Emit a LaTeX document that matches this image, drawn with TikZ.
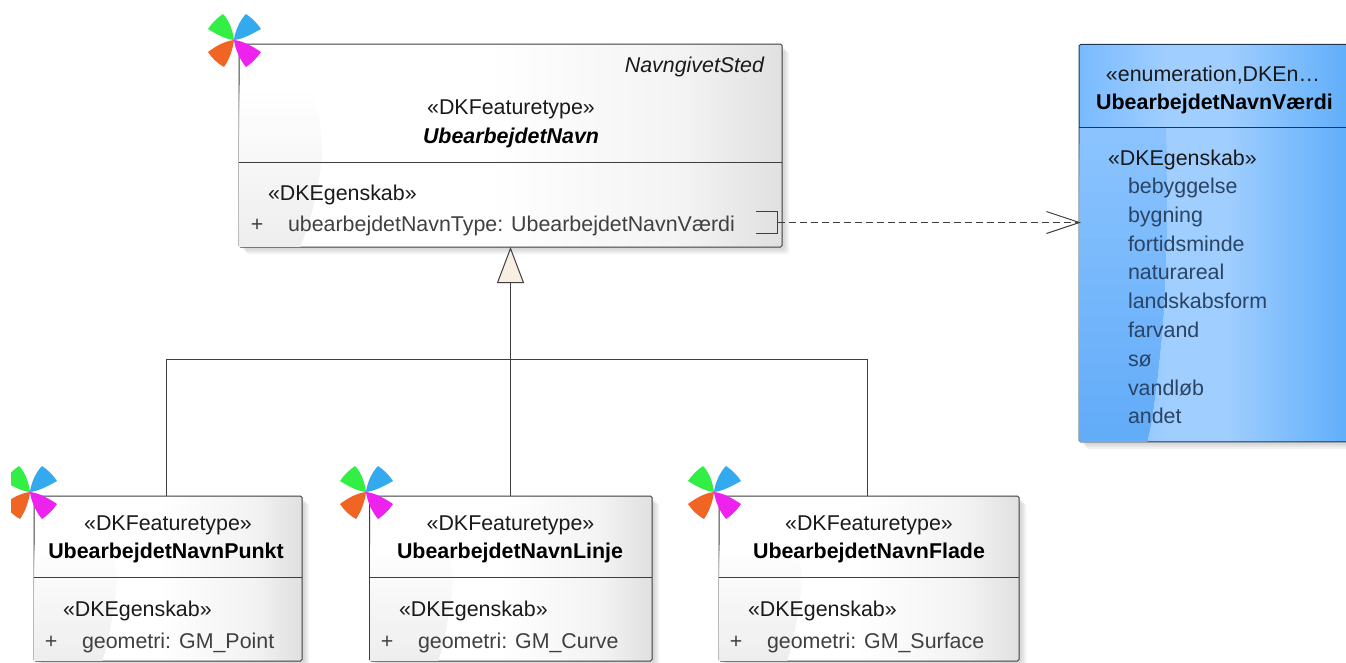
\documentclass[tikz,border=0pt]{standalone}
\usepackage{fontspec}
\setmainfont{Liberation Sans}
\usetikzlibrary{arrows.meta,calc}
\definecolor{linec}{HTML}{3E3E3E}
\definecolor{stereo}{HTML}{1A1A1A}
\definecolor{attr}{HTML}{404040}
\definecolor{enumattr}{HTML}{2A4464}
\definecolor{enumline}{HTML}{1F3550}
\definecolor{cream}{HTML}{F9EEE2}
\definecolor{gA}{HTML}{FFFFFF}
\definecolor{gB}{HTML}{F3F3F3}
\definecolor{gC}{HTML}{E0E0E0}
\definecolor{bA}{HTML}{78BAFF}
\definecolor{bB}{HTML}{A0CEFF}
\definecolor{bC}{HTML}{5EADFA}
\definecolor{bD}{HTML}{8AC3FF}
\definecolor{bE}{HTML}{62ACF8}
\definecolor{swA}{HTML}{FFFFFF}
\definecolor{swB}{HTML}{EEEEEE}
\definecolor{petG}{HTML}{33EE44}
\definecolor{petB}{HTML}{33AAEE}
\definecolor{petO}{HTML}{F06424}
\definecolor{petM}{HTML}{EE22EE}
\pgfdeclarehorizontalshading{grayface}{100bp}{color(0bp)=(gA);color(25bp)=(gA);color(48bp)=(gA);color(66bp)=(gB);color(75bp)=(gC);color(100bp)=(gC)}
\pgfdeclarehorizontalshading{enumface}{100bp}{color(0bp)=(bA);color(25bp)=(bA);color(41bp)=(bB);color(52bp)=(bB);color(75bp)=(bC);color(100bp)=(bC)}
\newcommand{\flowerat}[2]{%
  \begin{scope}[shift={(#1,#2)}]
    \fill[petG] (0,0) .. controls (-9,-1) and (-18,-6) .. (-26,-11) .. controls (-22,-17) and (-17,-22) .. (-11,-26) .. controls (-5,-20) and (-1,-9) .. (0,0) -- cycle;
    \fill[petB] (0,0) .. controls (9,-1) and (18,-6) .. (27,-11) .. controls (23,-17) and (18,-22) .. (12,-26) .. controls (6,-20) and (1,-9) .. (0,0) -- cycle;
    \fill[petO] (0,0) .. controls (-9,1) and (-18,6) .. (-26,12) .. controls (-22,18) and (-17,23) .. (-10,27) .. controls (-5,20) and (-1,9) .. (0,0) -- cycle;
    \fill[petM] (0,0) .. controls (9,1) and (18,6) .. (27,12) .. controls (23,18) and (18,23) .. (12,27) .. controls (6,20) and (1,9) .. (0,0) -- cycle;
  \end{scope}}
% #1,#2 x-range, #3,#4 y-range, #5,#6 colours from top to bottom
\newcommand{\bandfill}[6]{%
  \foreach \i in {0,...,19}{
    \pgfmathsetmacro{\yy}{#3+\i*(#4-#3)/20}
    \pgfmathsetmacro{\mm}{100-\i*100/19}
    \fill[fill={#5!\mm!#6}] (#1,\yy) rectangle (#2,#4);
  }}
\tikzset{
  umlbox/.style={draw=linec,line width=1pt,rounded corners=1.5pt,shading=grayface,inner sep=0pt,outer sep=0pt},
  enumbox/.style={draw=enumline,line width=1pt,rounded corners=1.5pt,shading=enumface,inner sep=0pt,outer sep=0pt},
  shade1/.style={fill=black,opacity=.05,rounded corners=3pt},
  divider/.style={draw=linec,line width=1pt},
  conn/.style={draw=linec,line width=1pt},
  txt/.style={inner sep=0pt,outer sep=0pt,font=\fontsize{21.4}{25}\selectfont},
  stereotype/.style={txt,text=stereo,anchor=base},
  stereoleft/.style={txt,text=stereo,anchor=base west},
  classname/.style={txt,text=black,anchor=base,font=\fontsize{21.4}{25}\selectfont\bfseries},
  attrib/.style={txt,text=attr,anchor=base west},
  plus/.style={txt,text=attr,anchor=base},
  enumitem/.style={txt,text=enumattr,anchor=base west}
}
\begin{document}
\begin{tikzpicture}[x=1pt,y=-1pt]
\useasboundingbox (0,0) rectangle (1346,662);
\clip (0,0) rectangle (1346,662);
\fill[white] (0,0) rectangle (1346,662);
% shadows
\foreach \o in {3,5,7}{
  \fill[shade1] (239+\o,44+\o) rectangle (782+\o,247+\o);
  \fill[shade1] (1079+\o,44+\o) rectangle (1352+\o,442+\o);
  \fill[shade1] (34+\o,496+\o) rectangle (302+\o,661+\o);
  \fill[shade1] (369.5+\o,496+\o) rectangle (652+\o,661+\o);
  \fill[shade1] (719+\o,496+\o) rectangle (1019+\o,661+\o);
}
% class boxes
\node[umlbox,minimum width=543pt,minimum height=203pt] (main) at (510.5,145.5) {};
\node[enumbox,minimum width=273pt,minimum height=397.5pt] (enum) at (1215.5,243.2) {};
\node[umlbox,minimum width=268pt,minimum height=165pt] (c1) at (168,578.5) {};
\node[umlbox,minimum width=282.5pt,minimum height=165pt] (c2) at (510.75,578.5) {};
\node[umlbox,minimum width=300pt,minimum height=165pt] (c3) at (869,578.5) {};
% highlights
\begin{scope}
  \clip (239.7,85) -- (306,85) .. controls (318,105) and (325,140) .. (320,170) .. controls (316,200) and (308,225) .. (300,246.3) -- (239.7,246.3) -- cycle;
  \bandfill{239}{330}{85}{247}{swA}{swB}
\end{scope}
\begin{scope}
  \clip (34.7,545) -- (105,545) .. controls (113,555) and (118,570) .. (116,585) .. controls (114,610) and (108,640) .. (102,660.3) -- (34.7,660.3) -- cycle;
  \bandfill{34}{125}{545}{661}{swA}{swB}
\end{scope}
\begin{scope}
  \clip (370.2,545) -- (441,545) .. controls (449,555) and (454,570) .. (452,585) .. controls (450,610) and (444,640) .. (438,660.3) -- (370.2,660.3) -- cycle;
  \bandfill{369}{460}{545}{661}{swA}{swB}
\end{scope}
\begin{scope}
  \clip (719.7,545) -- (790,545) .. controls (798,555) and (803,570) .. (801,585) .. controls (799,610) and (793,640) .. (787,660.3) -- (719.7,660.3) -- cycle;
  \bandfill{719}{810}{545}{661}{swA}{swB}
\end{scope}
\begin{scope}
  \clip (1079.7,128) -- (1166,128) .. controls (1168,200) and (1166,300) .. (1160,350) .. controls (1156,390) and (1152,420) .. (1147,441.3) -- (1079.7,441.3) -- cycle;
  \bandfill{1079}{1175}{128}{442}{bD}{bE}
\end{scope}
% compartment dividers
\draw[divider] (main.west |- 0,162) -- (main.east |- 0,162);
\draw[divider,draw=enumline] (enum.west |- 0,127) -- (enum.east |- 0,127);
\draw[divider] (c1.west |- 0,577.5) -- (c1.east |- 0,577.5);
\draw[divider] (c2.west |- 0,577.5) -- (c2.east |- 0,577.5);
\draw[divider] (c3.west |- 0,577.5) -- (c3.east |- 0,577.5);
% flowers
\flowerat{234}{40}
\flowerat{366}{492}
\flowerat{714}{492}
\begin{scope}
  \clip (11,440) rectangle (200,560);
  \flowerat{30}{492}
\end{scope}
% connectors
\coordinate (j1) at (166.5,359.5);
\coordinate (j3) at (867.5,359.5);
\coordinate (jm) at (main.south |- j1);
\draw[conn] (c1.north -| j1) -- (j1) -- (j3) -- (c3.north -| j3);
\draw[conn,-{Triangle[length=36pt,width=27pt,fill=cream]}] (c2.north -| jm) -- (main.south);
\coordinate (portT) at (756,211.5);
\coordinate (portR) at (777.5,222.5);
\coordinate (portB) at (756,233.5);
\draw[conn] (portT) -- (portT -| portR) -- (portB -| portR) -- (portB);
\draw[conn,dash pattern=on 7pt off 4pt,shorten >=-2pt,-{Straight Barb[length=33pt,width=22pt,line width=1pt]}] (portR) -- (enum.west |- portR);
% texts
\node[txt,text=stereo,anchor=base east,font=\fontsize{21.4}{25}\selectfont\itshape] (mparent) at (764,72) {NavngivetSted};
\node[stereotype] (mst) at (511,114) {«DKFeaturetype»};
\node[classname,font=\fontsize{21.4}{25}\selectfont\bfseries\itshape] (mname) at (511,143) {UbearbejdetNavn};
\node[stereoleft] (meg) at (268,200) {«DKEgenskab»};
\node[plus] (mplus) at (257,231) {+};
\node[attrib] (mattr) at (288,231) {ubearbejdetNavnType: UbearbejdetNavnVærdi};
\node[stereotype] (est) at (1213,81) {«enumeration,DKEn…};
\node[classname] (ename) at (1214.5,109) {UbearbejdetNavnVærdi};
\node[stereoleft] (eeg) at (1108,165) {«DKEgenskab»};
\node[enumitem] (e1) at (1128,193) {bebyggelse};
\node[enumitem] (e2) at (1128,222) {bygning};
\node[enumitem] (e3) at (1128,251) {fortidsminde};
\node[enumitem] (e4) at (1128,279.7) {naturareal};
\node[enumitem] (e5) at (1128,308.5) {landskabsform};
\node[enumitem] (e6) at (1128,337.4) {farvand};
\node[enumitem] (e7) at (1128,366.3) {sø};
\node[enumitem] (e8) at (1128,395.2) {vandløb};
\node[enumitem] (e9) at (1128,423) {andet};
\node[stereotype] (c1st) at (168,530) {«DKFeaturetype»};
\node[classname] (c1name) at (166,558) {UbearbejdetNavnPunkt};
\node[stereoleft] (c1eg) at (63,616) {«DKEgenskab»};
\node[plus] (c1plus) at (51,648) {+};
\node[attrib] (c1attr) at (82,648) {geometri: GM\_Point};
\node[stereotype] (c2st) at (510.5,530) {«DKFeaturetype»};
\node[classname] (c2name) at (510,558) {UbearbejdetNavnLinje};
\node[stereoleft] (c2eg) at (399,616) {«DKEgenskab»};
\node[plus] (c2plus) at (387,648) {+};
\node[attrib] (c2attr) at (418,648) {geometri: GM\_Curve};
\node[stereotype] (c3st) at (869,530) {«DKFeaturetype»};
\node[classname] (c3name) at (869,558) {UbearbejdetNavnFlade};
\node[stereoleft] (c3eg) at (748,616) {«DKEgenskab»};
\node[plus] (c3plus) at (736,648) {+};
\node[attrib] (c3attr) at (767,648) {geometri: GM\_Surface};
\end{tikzpicture}
\end{document}
